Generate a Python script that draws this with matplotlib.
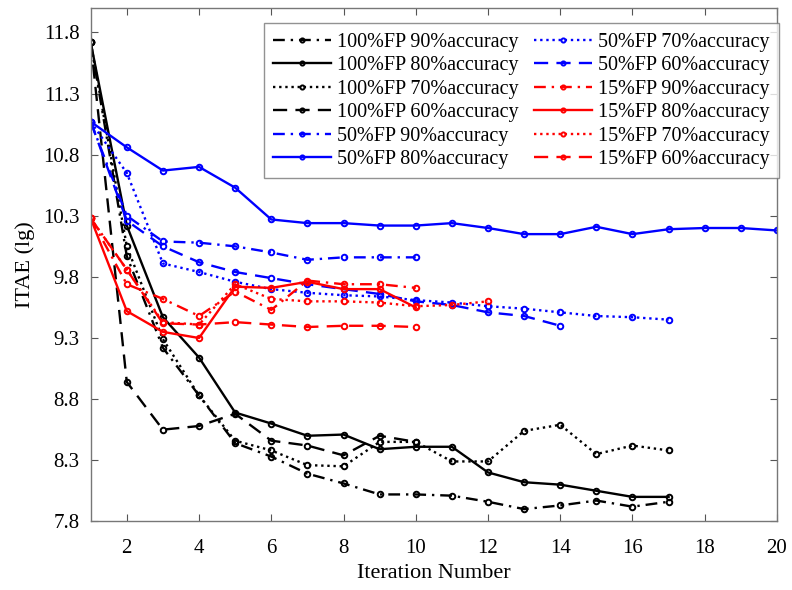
import numpy as np
import matplotlib
matplotlib.use("Agg")
import matplotlib.pyplot as plt

plt.rcParams["font.family"] = ["Liberation Serif", "DejaVu Serif"]

# ---- data ----
fp100_90 = [11.72, 9.97, 9.22, 8.83, 8.44, 8.33, 8.19, 8.11, 8.02, 8.02, 8.01, 7.96, 7.90, 7.93, 7.97, 7.92, 7.96]
fp100_80 = [11.72, 10.22, 9.47, 9.14, 8.69, 8.60, 8.50, 8.51, 8.39, 8.41, 8.41, 8.20, 8.12, 8.10, 8.05, 8.00, 8.00]
fp100_70 = [11.72, 10.05, 9.29, 8.83, 8.46, 8.38, 8.26, 8.25, 8.45, 8.45, 8.29, 8.29, 8.54, 8.59, 8.35, 8.42, 8.38]
fp100_60 = [11.72, 8.94, 8.55, 8.58, 8.68, 8.46, 8.42, 8.34, 8.50, 8.45]

fp50_90 = [11.07, 10.30, 10.09, 10.08, 10.05, 10.00, 9.94, 9.96, 9.96, 9.96]
fp50_80 = [11.07, 10.86, 10.67, 10.70, 10.53, 10.27, 10.24, 10.24, 10.22, 10.22,
           10.24, 10.20, 10.15, 10.15, 10.21, 10.15, 10.19, 10.20, 10.20, 10.18]
fp50_70 = [11.07, 10.65, 9.91, 9.84, 9.76, 9.70, 9.67, 9.65, 9.64, 9.61,
           9.59, 9.56, 9.54, 9.51, 9.48, 9.47, 9.45]
fp50_60 = [11.07, 10.26, 10.05, 9.92, 9.84, 9.79, 9.74, 9.70, 9.66, 9.60,
           9.57, 9.51, 9.48, 9.40]

fp15_90 = [10.28, 9.74, 9.62, 9.48, 9.68, 9.53, 9.77, 9.74, 9.74, 9.71]
fp15_80 = [10.28, 9.52, 9.35, 9.30, 9.72, 9.71, 9.76, 9.70, 9.70, 9.55]
fp15_70 = [10.28, 9.86, 9.43, 9.41, 9.74, 9.62, 9.60, 9.60, 9.59, 9.56, 9.57, 9.60]
fp15_60 = [10.28, 9.86, 9.42, 9.41, 9.43, 9.41, 9.39, 9.40, 9.40, 9.39]

series = [
    (fp100_90, "k", "-.", "100%FP 90%accuracy"),
    (fp100_80, "k", "-", "100%FP 80%accuracy"),
    (fp100_70, "k", ":", "100%FP 70%accuracy"),
    (fp100_60, "k", "--", "100%FP 60%accuracy"),
    (fp50_90, "b", "-.", "50%FP 90%accuracy"),
    (fp50_80, "b", "-", "50%FP 80%accuracy"),
    (fp50_70, "b", ":", "50%FP 70%accuracy"),
    (fp50_60, "b", "--", "50%FP 60%accuracy"),
    (fp15_90, "r", "-.", "15%FP 90%accuracy"),
    (fp15_80, "r", "-", "15%FP 80%accuracy"),
    (fp15_70, "r", ":", "15%FP 70%accuracy"),
    (fp15_60, "r", "--", "15%FP 60%accuracy"),
]

dash_styles = {
    "-": "-",
    "--": (0, (6, 3.5)),
    ":": (0, (1, 1.6)),
    "-.": (0, (5, 2.5, 1, 2.5)),
}

fig = plt.figure(figsize=(7.92, 5.90), dpi=100)
ax = fig.add_axes([0.1145, 0.1164, 0.8665, 0.8700])

for values, color, ls, label in series:
    x = np.arange(1, len(values) + 1)
    ax.plot(x, values, color=color, linestyle=dash_styles[ls], linewidth=1.7,
            marker="o", markersize=4, markerfacecolor="none",
            markeredgewidth=1.4, label=label)

ax.set_xlim(1, 20)
ax.set_ylim(7.8, 12.0)
ax.set_xticks(np.arange(2, 21, 2))
ax.set_yticks([7.8, 8.3, 8.8, 9.3, 9.8, 10.3, 10.8, 11.3, 11.8])
ax.set_yticklabels(["7.8", "8.3", "8.8", "9.3", "9.8", "10.3", "10.8", "11.3", "11.8"])

ax.tick_params(direction="in", top=True, right=True, labelsize=15,
               length=5, width=0.8, color="#555555")
ax.tick_params(axis="x", pad=13)
ax.tick_params(axis="y", pad=8)
for spine in ax.spines.values():
    spine.set_color("#777777")
    spine.set_linewidth(1.0)

ax.set_xlabel("Iteration Number", fontsize=16, labelpad=4)
ax.set_ylabel("ITAE (lg)", fontsize=16, labelpad=6)

leg = ax.legend(ncol=2, loc="upper right", fontsize=14.5, frameon=True,
                fancybox=False, handlelength=2.9, columnspacing=0.75,
                handletextpad=0.3, labelspacing=0.22, borderpad=0.45,
                borderaxespad=0, bbox_to_anchor=(1.003, 0.97))
leg.get_frame().set_edgecolor("#777777")
leg.get_frame().set_linewidth(1.0)
for line in leg.get_lines():
    line.set_markersize(3)

fig.savefig("out.png", dpi=100)
